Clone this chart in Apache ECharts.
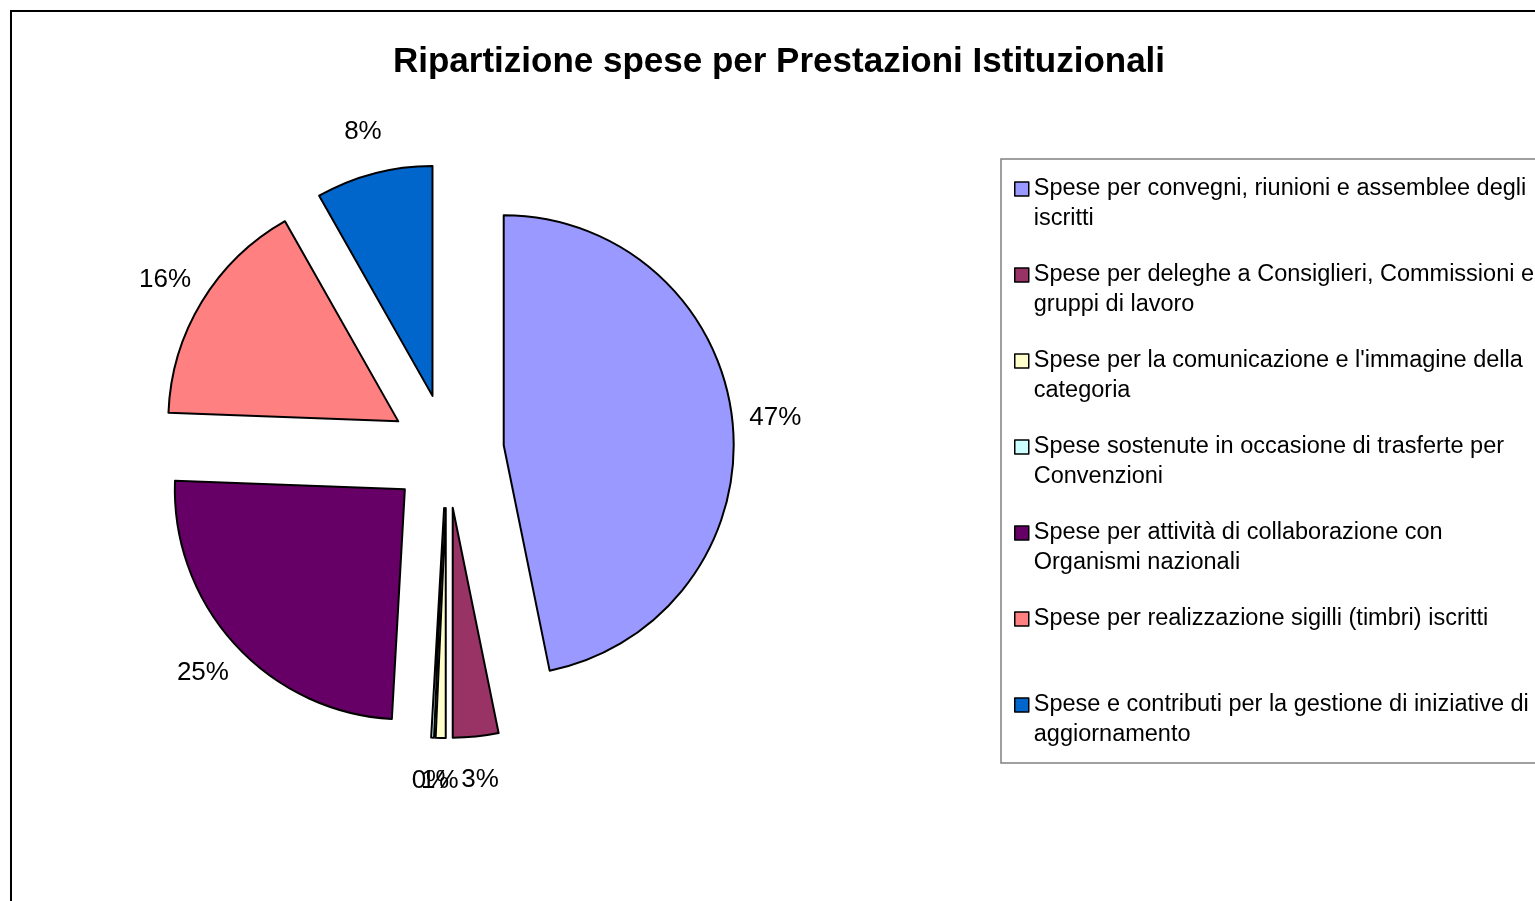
<!DOCTYPE html>
<html>
<head>
<meta charset="utf-8">
<title>Ripartizione spese per Prestazioni Istituzionali</title>
<script src="https://cdn.jsdelivr.net/npm/echarts@6/dist/echarts.min.js"></script>
<style>
  html, body { margin: 0; padding: 0; background: #fff; }
  #main { width: 1535px; height: 901px; }
</style>
</head>
<body>
<div id="main"></div>
<script>
  // voci di spesa (ordine del grafico, in senso orario dalle ore 12)
  var names = [
    "Spese per convegni, riunioni e assemblee degli iscritti",
    "Spese per deleghe a Consiglieri, Commissioni e gruppi di lavoro",
    "Spese per la comunicazione e l'immagine della categoria",
    "Spese sostenute in occasione di trasferte per Convenzioni",
    "Spese per attività di collaborazione con Organismi nazionali",
    "Spese per realizzazione sigilli (timbri) iscritti",
    "Spese e contributi per la gestione di iniziative di aggiornamento"
  ];
  // testo della legenda, a capo come nell'originale
  var legendLines = [
    "Spese per convegni, riunioni e assemblee degli\niscritti",
    "Spese per deleghe a Consiglieri, Commissioni e\ngruppi di lavoro",
    "Spese per la comunicazione e l'immagine della\ncategoria",
    "Spese sostenute in occasione di trasferte per\nConvenzioni",
    "Spese per attività di collaborazione con\nOrganismi nazionali",
    "Spese per realizzazione sigilli (timbri) iscritti",
    "Spese e contributi per la gestione di iniziative di\naggiornamento"
  ];
  // quote percentuali stimate dal grafico
  var values = [46.8, 3.2, 0.7, 0.2, 24.7, 16.2, 8.2];
  var colors = ["#9999FF", "#993366", "#FFFFCC", "#CCFFFF", "#660066", "#FF8080", "#0066CC"];

  var FONT = "Liberation Sans, Arial, sans-serif";

  var pieData = names.map(function (n, i) {
    return { name: n, value: values[i], selected: true, itemStyle: { color: colors[i] } };
  });
  var labelData = names.map(function (n, i) {
    return { name: n, value: values[i], selected: true };
  });

  var myChart = echarts.init(document.getElementById('main'));
  var option = {
    animation: false,
    backgroundColor: '#fff',
    title: {
      text: 'Ripartizione spese per Prestazioni Istituzionali',
      left: 774,
      top: 37,
      padding: 5,
      textAlign: 'center',
      textStyle: { fontFamily: FONT, fontSize: 35, fontWeight: 'bold', color: '#000', lineHeight: 40 }
    },
    graphic: [
      {
        type: 'rect', z: -10,
        shape: { x: 11, y: 11, width: 1600, height: 1000 },
        style: { fill: 'none', stroke: '#000', lineWidth: 2 }
      },
      {
        type: 'rect', z: -10,
        shape: { x: 1001, y: 159, width: 600, height: 604 },
        style: { fill: 'none', stroke: '#808080', lineWidth: 1.5 }
      }
    ],
    legend: {
      orient: 'vertical',
      left: 1014,
      top: 144,
      padding: 0,
      itemGap: -4,
      itemWidth: 14,
      itemHeight: 14,
      icon: 'rect',
      itemStyle: { borderColor: '#000', borderWidth: 1.5 },
      textStyle: { fontFamily: FONT, fontSize: 23.5, color: '#000', lineHeight: 30 },
      // riga vuota in testa: l'icona resta sulla prima riga di testo
      formatter: function (name) {
        var t = legendLines[names.indexOf(name)];
        return '\n' + t + (t.indexOf('\n') < 0 ? '\n ' : '');
      },
      data: names
    },
    series: [
      {
        name: 'spese',
        type: 'pie',
        center: [447, 451],
        radius: 230,
        startAngle: 90,
        clockwise: true,
        selectedMode: 'multiple',
        selectedOffset: 57,
        avoidLabelOverlap: false,
        label: { show: false },
        labelLine: { show: false },
        itemStyle: { borderColor: '#000', borderWidth: 2 },
        emphasis: { disabled: true },
        data: pieData
      },
      {
        // anello invisibile che porta le etichette percentuali
        name: 'etichette',
        type: 'pie',
        silent: true,
        center: [447, 451],
        radius: [255, 285],
        startAngle: 90,
        clockwise: true,
        selectedMode: 'multiple',
        selectedOffset: 57,
        avoidLabelOverlap: false,
        minShowLabelAngle: 0,
        labelLayout: { hideOverlap: false },
        itemStyle: { color: 'rgba(0,0,0,0)', borderWidth: 0 },
        labelLine: { show: false },
        emphasis: { disabled: true },
        label: {
          show: true,
          position: 'inside',
          fontFamily: FONT,
          fontSize: 26,
          color: '#000',
          textBorderWidth: 0,
          formatter: function (p) {
            return Math.round(p.percent) + '%';
          }
        },
        data: labelData
      }
    ]
  };
  myChart.setOption(option);
</script>
</body>
</html>
